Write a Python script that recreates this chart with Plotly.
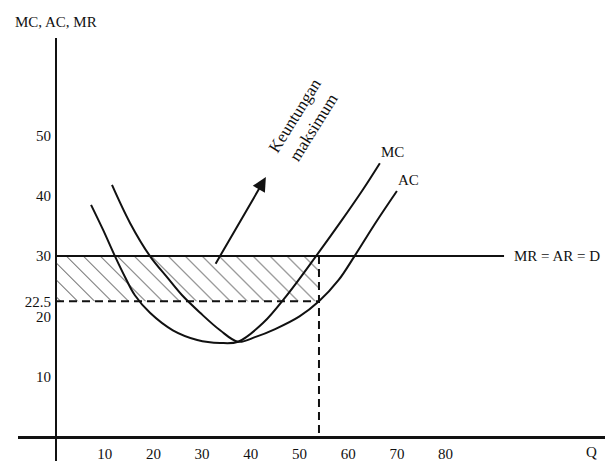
import plotly.graph_objects as go

# ---- data ----
mc_q = [7.2, 9.7, 12.1, 14.2, 16.2, 19.3, 24.0, 29.0, 33.7, 37.4, 42.5, 47.4, 53.4, 58.3, 63.0, 66.5]
mc_v = [38.5, 34.3, 30.0, 26.5, 23.5, 20.6, 17.7, 16.1, 15.6, 15.8, 18.9, 23.5, 30.0, 35.5, 41.0, 45.4]

ac_q = [11.5, 15.2, 19.3, 22.8, 25.9, 29.6, 33.7, 37.4, 41.0, 45.0, 50.0, 54.0, 58.0, 61.3, 65.6, 70.0]
ac_v = [41.8, 35.5, 30.0, 26.5, 23.5, 20.6, 17.7, 15.8, 16.6, 17.9, 20.0, 22.5, 26.0, 30.0, 35.5, 40.8]

mr_q = [0, 92]
mr_value = 30
q_star = 54
ac_star = 22.5

x_ticks = [10, 20, 30, 40, 50, 60, 70, 80]
y_ticks = [10, 20, 22.5, 30, 40, 50]
y_tick_text = ["10", "20", "22.5", "30", "40", "50"]

arrow_tail = (32.6, 28.5)
arrow_head = (43.1, 43.1)

FONT = "Liberation Serif, Times New Roman, DejaVu Serif, serif"
INK = "#111111"

fig = go.Figure()

# hatched profit rectangle
fig.add_trace(go.Scatter(
    x=[0, q_star, q_star, 0, 0],
    y=[ac_star, ac_star, mr_value, mr_value, ac_star],
    mode="lines", fill="toself", line=dict(width=0),
    fillcolor="rgba(0,0,0,0)",
    fillpattern=dict(shape="\\", size=12, solidity=0.08, fgcolor="#222222", fgopacity=0.9),
    hoverinfo="skip", showlegend=False,
))

# dashed guide lines
fig.add_trace(go.Scatter(x=[0, q_star], y=[ac_star, ac_star], mode="lines",
                         line=dict(color=INK, width=2, dash="8px,5px"), showlegend=False))
fig.add_trace(go.Scatter(x=[q_star, q_star], y=[mr_value, 0], mode="lines",
                         line=dict(color=INK, width=2, dash="8px,5px"), showlegend=False))

# MR = AR = D
fig.add_trace(go.Scatter(x=mr_q, y=[mr_value] * len(mr_q), mode="lines",
                         line=dict(color=INK, width=2), showlegend=False))

# MC and AC curves
fig.add_trace(go.Scatter(x=mc_q, y=mc_v, mode="lines",
                         line=dict(color=INK, width=2, shape="spline", smoothing=1.0), showlegend=False))
fig.add_trace(go.Scatter(x=ac_q, y=ac_v, mode="lines",
                         line=dict(color=INK, width=2, shape="spline", smoothing=1.0), showlegend=False))

annotations = [
    dict(x=arrow_head[0], y=arrow_head[1], ax=arrow_tail[0], ay=arrow_tail[1],
         xref="x", yref="y", axref="x", ayref="y", text="", showarrow=True,
         arrowhead=2, arrowsize=1.4, arrowwidth=2, arrowcolor=INK),
    dict(x=50.9, y=52.4, xref="x", yref="y", text="Keuntungan<br>maksimum", showarrow=False,
         textangle=-58, font=dict(family=FONT, size=17, color=INK), align="center"),
    dict(x=mc_q[-1] + 2.5, y=mc_v[-1] + 1.9, xref="x", yref="y", text="MC", showarrow=False,
         font=dict(family=FONT, size=15, color=INK)),
    dict(x=ac_q[-1] + 2.3, y=ac_v[-1] + 1.8, xref="x", yref="y", text="AC", showarrow=False,
         font=dict(family=FONT, size=15, color=INK)),
    dict(x=mr_q[-1] + 1.6, y=mr_value, xref="x", yref="y", text="MR = AR = D", showarrow=False,
         xanchor="left", font=dict(family=FONT, size=15, color=INK)),
    dict(x=110, y=0, xref="x", yref="y", text="Q", showarrow=False, yanchor="middle", yshift=-15,
         font=dict(family=FONT, size=15, color=INK)),
    dict(x=0, y=1, xref="x", yref="paper", text="MC, AC, MR", showarrow=False,
         yanchor="bottom", yshift=6, font=dict(family=FONT, size=15, color=INK)),
]

fig.update_layout(
    width=612, height=461,
    margin=dict(l=18, r=7, t=38, b=0),
    paper_bgcolor="white", plot_bgcolor="white",
    font=dict(family=FONT, size=15, color=INK),
    annotations=annotations,
    showlegend=False,
    xaxis=dict(range=[-7.8, 112.73], showgrid=False, showline=False, ticks="",
               zeroline=True, zerolinecolor=INK, zerolinewidth=2,
               tickvals=x_ticks, anchor="free", position=0.0567,
               ticklabelstandoff=6, tickfont=dict(family=FONT, size=15, color=INK)),
    yaxis=dict(range=[-3.98, 66.17], showgrid=False, showline=False, ticks="",
               zeroline=True, zerolinecolor=INK, zerolinewidth=2.5,
               tickvals=y_ticks, ticktext=y_tick_text, anchor="free", position=0.0647,
               ticklabelstandoff=5, tickfont=dict(family=FONT, size=15, color=INK)),
)

fig.write_html("out.html", config={"displayModeBar": False},
               post_script="document.body.style.margin='0px';document.body.style.padding='0px';")
